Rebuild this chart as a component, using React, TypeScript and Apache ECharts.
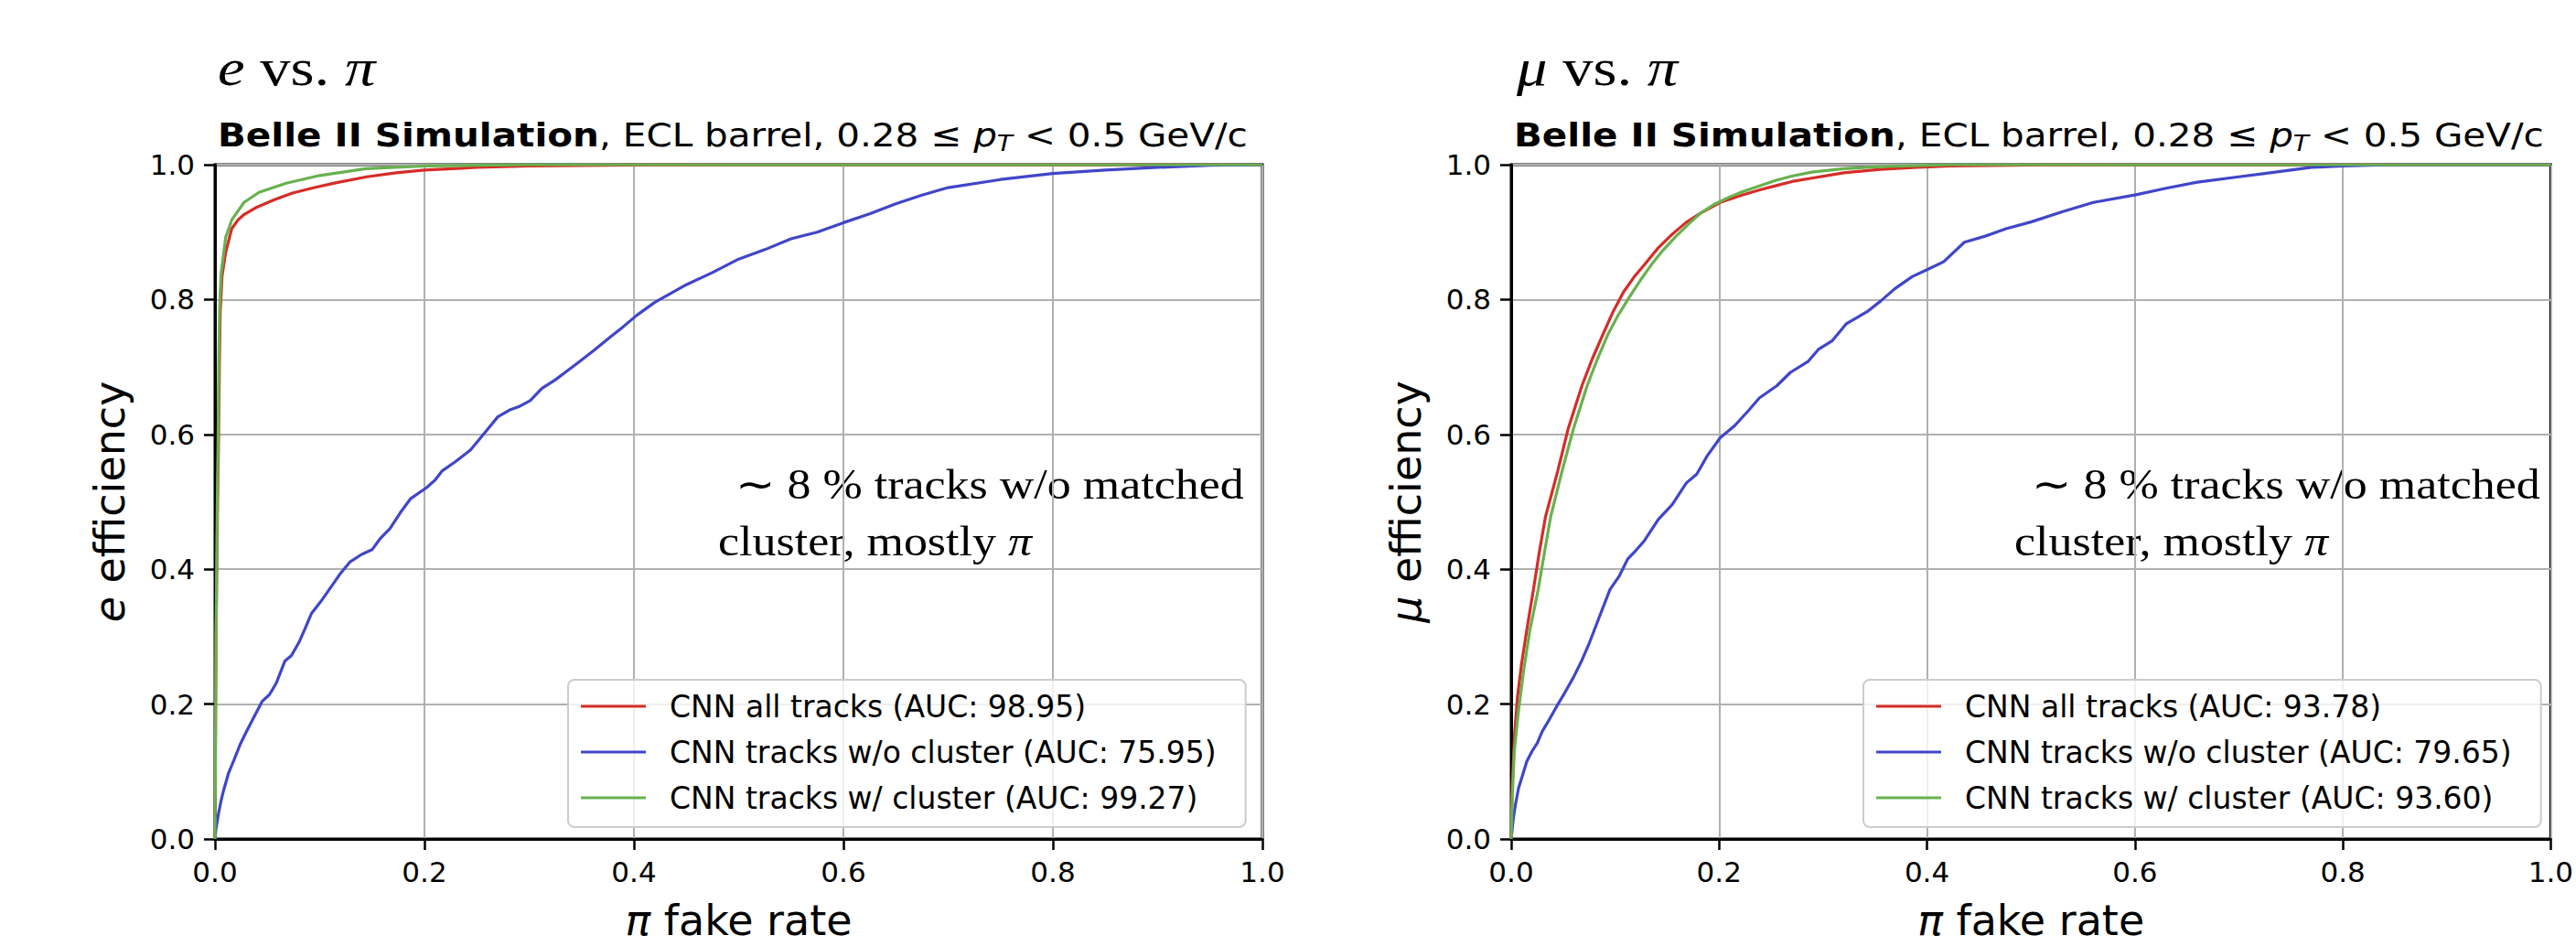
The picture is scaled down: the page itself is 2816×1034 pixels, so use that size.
import React, { useEffect, useRef } from "react";
import * as echarts from "echarts";

// ---------- data ----------
const tickLabels = ["0.0", "0.2", "0.4", "0.6", "0.8", "1.0"];

const legendE = [
  "CNN all tracks (AUC: 98.95)",
  "CNN tracks w/o cluster (AUC: 75.95)",
  "CNN tracks w/ cluster (AUC: 99.27)",
];
const legendMu = [
  "CNN all tracks (AUC: 93.78)",
  "CNN tracks w/o cluster (AUC: 79.65)",
  "CNN tracks w/ cluster (AUC: 93.60)",
];

// e vs pi : all tracks
const eAllX = [0, 0.001, 0.0025, 0.0035, 0.0042, 0.005, 0.0067, 0.0102, 0.016, 0.022, 0.0277, 0.04, 0.0568, 0.074, 0.095, 0.115, 0.145, 0.173, 0.2, 0.25, 0.3, 0.4, 0.5, 1.0];
const eAllY = [0, 0.3, 0.5, 0.6, 0.7, 0.78, 0.834, 0.87, 0.905, 0.918, 0.926, 0.937, 0.948, 0.958, 0.966, 0.973, 0.982, 0.988, 0.992, 0.996, 0.998, 0.9995, 1.0, 1.0];
// e vs pi : tracks w/o cluster
const eNoClX = [0, 0.001, 0.0033, 0.006, 0.0084, 0.013, 0.0184, 0.024, 0.03, 0.037, 0.045, 0.052, 0.0585, 0.0668, 0.073, 0.08, 0.086, 0.092, 0.101, 0.11, 0.119, 0.129, 0.14, 0.15, 0.158, 0.167, 0.177, 0.187, 0.202, 0.21, 0.217, 0.23, 0.244, 0.252, 0.261, 0.27, 0.281, 0.29, 0.301, 0.312, 0.325, 0.337, 0.348, 0.362, 0.377, 0.39, 0.403, 0.42, 0.45, 0.475, 0.5, 0.525, 0.55, 0.575, 0.6, 0.625, 0.65, 0.675, 0.7, 0.75, 0.8, 0.85, 0.9, 0.95, 1.0];
const eNoClY = [0, 0.015, 0.037, 0.058, 0.073, 0.098, 0.118, 0.14, 0.159, 0.18, 0.204, 0.214, 0.231, 0.264, 0.272, 0.291, 0.312, 0.334, 0.352, 0.372, 0.392, 0.411, 0.422, 0.429, 0.446, 0.46, 0.484, 0.505, 0.521, 0.532, 0.546, 0.56, 0.577, 0.592, 0.609, 0.626, 0.636, 0.641, 0.65, 0.668, 0.681, 0.695, 0.708, 0.725, 0.744, 0.76, 0.777, 0.796, 0.822, 0.84, 0.86, 0.874, 0.89, 0.9, 0.914, 0.927, 0.942, 0.955, 0.966, 0.978, 0.987, 0.992, 0.996, 0.999, 1.0];
// e vs pi : tracks w/ cluster
const eClX = [0, 0.001, 0.0022, 0.003, 0.0036, 0.0045, 0.0058, 0.0102, 0.016, 0.0277, 0.042, 0.068, 0.1, 0.144, 0.2, 0.3, 1.0];
const eClY = [0, 0.3, 0.5, 0.6, 0.7, 0.79, 0.838, 0.892, 0.918, 0.944, 0.959, 0.9725, 0.984, 0.994, 0.998, 1.0, 1.0];

// mu vs pi : all tracks
const muAllX = [0, 0.001, 0.003, 0.006, 0.01, 0.015, 0.0214, 0.027, 0.033, 0.0448, 0.0549, 0.068, 0.078, 0.0882, 0.098, 0.108, 0.118, 0.1284, 0.141, 0.155, 0.168, 0.182, 0.201, 0.222, 0.24, 0.255, 0.27, 0.289, 0.32, 0.355, 0.39, 0.423, 0.5, 0.6, 1.0];
const muAllY = [0, 0.08, 0.15, 0.21, 0.26, 0.31, 0.37, 0.425, 0.478, 0.546, 0.609, 0.672, 0.712, 0.748, 0.782, 0.811, 0.833, 0.852, 0.876, 0.897, 0.914, 0.928, 0.944, 0.955, 0.963, 0.969, 0.975, 0.98, 0.988, 0.993, 0.996, 0.998, 0.9995, 1.0, 1.0];
// mu vs pi : tracks w/o cluster
const muNoClX = [0, 0.002, 0.004, 0.007, 0.01, 0.015, 0.02, 0.025, 0.03, 0.037, 0.045, 0.052, 0.06, 0.068, 0.075, 0.085, 0.095, 0.104, 0.112, 0.12, 0.128, 0.1416, 0.155, 0.1685, 0.1785, 0.1885, 0.201, 0.215, 0.2287, 0.2387, 0.2554, 0.2687, 0.2855, 0.2955, 0.309, 0.3223, 0.3424, 0.3556, 0.369, 0.3857, 0.401, 0.416, 0.436, 0.456, 0.476, 0.5, 0.53, 0.56, 0.6, 0.63, 0.66, 0.7, 0.73, 0.77, 0.8, 0.85, 0.9, 1.0];
const muNoClY = [0, 0.03, 0.05, 0.075, 0.09, 0.115, 0.13, 0.142, 0.16, 0.178, 0.2, 0.218, 0.24, 0.265, 0.29, 0.33, 0.37, 0.39, 0.415, 0.428, 0.442, 0.474, 0.496, 0.528, 0.541, 0.568, 0.595, 0.613, 0.636, 0.654, 0.672, 0.692, 0.708, 0.726, 0.739, 0.764, 0.782, 0.798, 0.816, 0.834, 0.845, 0.856, 0.885, 0.894, 0.905, 0.915, 0.93, 0.944, 0.955, 0.965, 0.974, 0.982, 0.988, 0.996, 0.998, 1.0, 1.0, 1.0];
// mu vs pi : tracks w/ cluster
const muClX = [0, 0.001, 0.003, 0.007, 0.012, 0.018, 0.026, 0.032, 0.038, 0.049, 0.06, 0.073, 0.083, 0.093, 0.103, 0.113, 0.124, 0.135, 0.146, 0.158, 0.17, 0.182, 0.195, 0.21, 0.222, 0.24, 0.255, 0.27, 0.289, 0.32, 0.355, 0.423, 0.5, 1.0];
const muClY = [0, 0.06, 0.13, 0.19, 0.25, 0.31, 0.37, 0.425, 0.478, 0.546, 0.609, 0.672, 0.712, 0.748, 0.777, 0.802, 0.828, 0.852, 0.873, 0.893, 0.911, 0.928, 0.941, 0.952, 0.9595, 0.969, 0.977, 0.983, 0.989, 0.994, 0.997, 1.0, 1.0, 1.0];

// ---------- styling ----------
const RED = "#d62c26";
const BLUE = "#4046c8";
const GREEN = "#68b14e";
const SANS = "DejaVu Sans";
const SERIF = "Liberation Serif";

const zip = (xs: number[], ys: number[]) => xs.map((x, i) => [x, ys[i]]);

function axisBase(i: number) {
  return {
    gridIndex: i,
    type: "value",
    min: 0,
    max: 1,
    interval: 0.2,
    axisLine: { show: true, onZero: false, lineStyle: { color: "#000", width: 3 } },
    axisTick: { show: true, inside: false, length: 12, lineStyle: { color: "#000", width: 2.5 } },
    splitLine: { show: true, lineStyle: { color: "#b0b0b0", width: 2 } },
    axisLabel: {
      show: true,
      fontSize: 31,
      fontFamily: SANS,
      color: "#000",
      showMaxLabel: true,
      showMinLabel: true,
      hideOverlap: false,
      formatter: (v: number) => tickLabels[Math.round(v / 0.2)] ?? "",
    },
  };
}

function lineSeries(name: string, data: number[][], color: string, idx: number) {
  return {
    type: "line",
    name,
    data,
    xAxisIndex: idx,
    yAxisIndex: idx,
    showSymbol: false,
    symbol: "none",
    lineStyle: { color, width: 3.2 },
    itemStyle: { color },
    z: 3,
    clip: true,
  };
}

function legendFor(names: string[], left: number) {
  return {
    data: names,
    orient: "vertical",
    left,
    top: 743,
    icon: "rect",
    itemWidth: 71,
    itemHeight: 3,
    itemGap: 16,
    padding: [12, 32, 15, 14],
    backgroundColor: "rgba(255,255,255,0.8)",
    borderColor: "#cccccc",
    borderWidth: 2,
    borderRadius: 7,
    selectedMode: false,
    textStyle: { fontSize: 33, fontFamily: SANS, color: "#000", lineHeight: 34, padding: [0, 0, 0, 21] },
  };
}

function titleText(x: number) {
  return {
    type: "text",
    x,
    y: 147,
    scaleX: 1.125,
    style: {
      text: "{b|Belle II Simulation}{n|, ECL barrel, 0.28 \u2264 }{i|p}{s|T}{n| < 0.5 GeV/c}",
      align: "left",
      verticalAlign: "middle",
      rich: {
        b: { fontFamily: SANS, fontSize: 36, fontWeight: "bold", fill: "#000", lineHeight: 44 },
        n: { fontFamily: SANS, fontSize: 36, fill: "#000", lineHeight: 44 },
        i: { fontFamily: SANS, fontSize: 36, fontStyle: "italic", fill: "#000", lineHeight: 44 },
        s: { fontFamily: SANS, fontSize: 25, fontStyle: "italic", fill: "#000", lineHeight: 24, verticalAlign: "bottom" },
      },
    },
  };
}

function panelLabel(x: number, particle: string) {
  return {
    type: "text",
    x,
    y: 74,
    scaleX: 1.15,
    style: {
      text: `{i|${particle}}{n| vs. }{i|\u03c0}`,
      align: "left",
      verticalAlign: "middle",
      rich: {
        i: { fontFamily: SERIF, fontSize: 58, fontStyle: "italic", fill: "#000" },
        n: { fontFamily: SERIF, fontSize: 58, fill: "#000" },
      },
    },
  };
}

function annotation(x: number) {
  return [
    {
      type: "text",
      x: x + 19,
      y: 530,
      scaleX: 1.13,
      style: {
        text: "\u223c 8 % tracks w/o matched",
        fontFamily: SERIF,
        fontSize: 46,
        fill: "#000",
        align: "left",
        verticalAlign: "middle",
      },
    },
    {
      type: "text",
      x,
      y: 592,
      scaleX: 1.13,
      style: {
        text: "{n|cluster, mostly }{i|\u03c0}",
        align: "left",
        verticalAlign: "middle",
        rich: {
          n: { fontFamily: SERIF, fontSize: 46, fill: "#000" },
          i: { fontFamily: SERIF, fontSize: 46, fontStyle: "italic", fill: "#000" },
        },
      },
    },
  ];
}

export default function App() {
  const ref = useRef<HTMLDivElement>(null);
  useEffect(() => {
    if (!ref.current) return;
    const chart = echarts.init(ref.current, null, { renderer: "svg" });
    const yNames = ["e", "\u03bc"];
    const option: any = {
      animation: false,
      backgroundColor: "#ffffff",
      grid: [
        { left: 235, top: 180, width: 1145, height: 741, show: true, borderColor: "#000", borderWidth: 3, backgroundColor: "transparent" },
        { left: 1652, top: 180, width: 1145, height: 741, show: true, borderColor: "#000", borderWidth: 3, backgroundColor: "transparent" },
      ],
      xAxis: [0, 1].map((i) => ({
        ...axisBase(i),
        position: "bottom",
        axisLabel: { ...axisBase(i).axisLabel, margin: 20 },
        name: "{i|\u03c0} fake rate",
        nameLocation: "middle",
        nameGap: 66,
        nameTextStyle: {
          fontSize: 46,
          fontFamily: SANS,
          color: "#000",
          rich: { i: { fontSize: 46, fontFamily: SANS, fontStyle: "italic", color: "#000" } },
        },
      })),
      yAxis: [0, 1].map((i) => ({
        ...axisBase(i),
        position: "left",
        axisLabel: { ...axisBase(i).axisLabel, margin: 22 },
        name: `{i|${yNames[i]}} efficiency`,
        nameLocation: "middle",
        nameRotate: 90,
        nameGap: 92,
        nameTextStyle: {
          fontSize: 46,
          fontFamily: SANS,
          color: "#000",
          rich: { i: { fontSize: 46, fontFamily: SANS, fontStyle: "italic", color: "#000" } },
        },
      })),
      legend: [legendFor(legendE, 621), legendFor(legendMu, 2037)],
      series: [
        lineSeries(legendE[0], zip(eAllX, eAllY), RED, 0),
        lineSeries(legendE[1], zip(eNoClX, eNoClY), BLUE, 0),
        lineSeries(legendE[2], zip(eClX, eClY), GREEN, 0),
        lineSeries(legendMu[0], zip(muAllX, muAllY), RED, 1),
        lineSeries(legendMu[1], zip(muNoClX, muNoClY), BLUE, 1),
        lineSeries(legendMu[2], zip(muClX, muClY), GREEN, 1),
      ],
      graphic: [
        titleText(238),
        titleText(1655),
        panelLabel(238, "e"),
        panelLabel(1658, "\u03bc"),
        ...annotation(785),
        ...annotation(2202),
      ],
    };
    chart.setOption(option);
    return () => chart.dispose();
  }, []);
  return (
    <div
      ref={ref}
      style={{ position: "fixed", left: 0, top: 0, width: 2816, height: 1034, background: "#fff" }}
    />
  );
}
